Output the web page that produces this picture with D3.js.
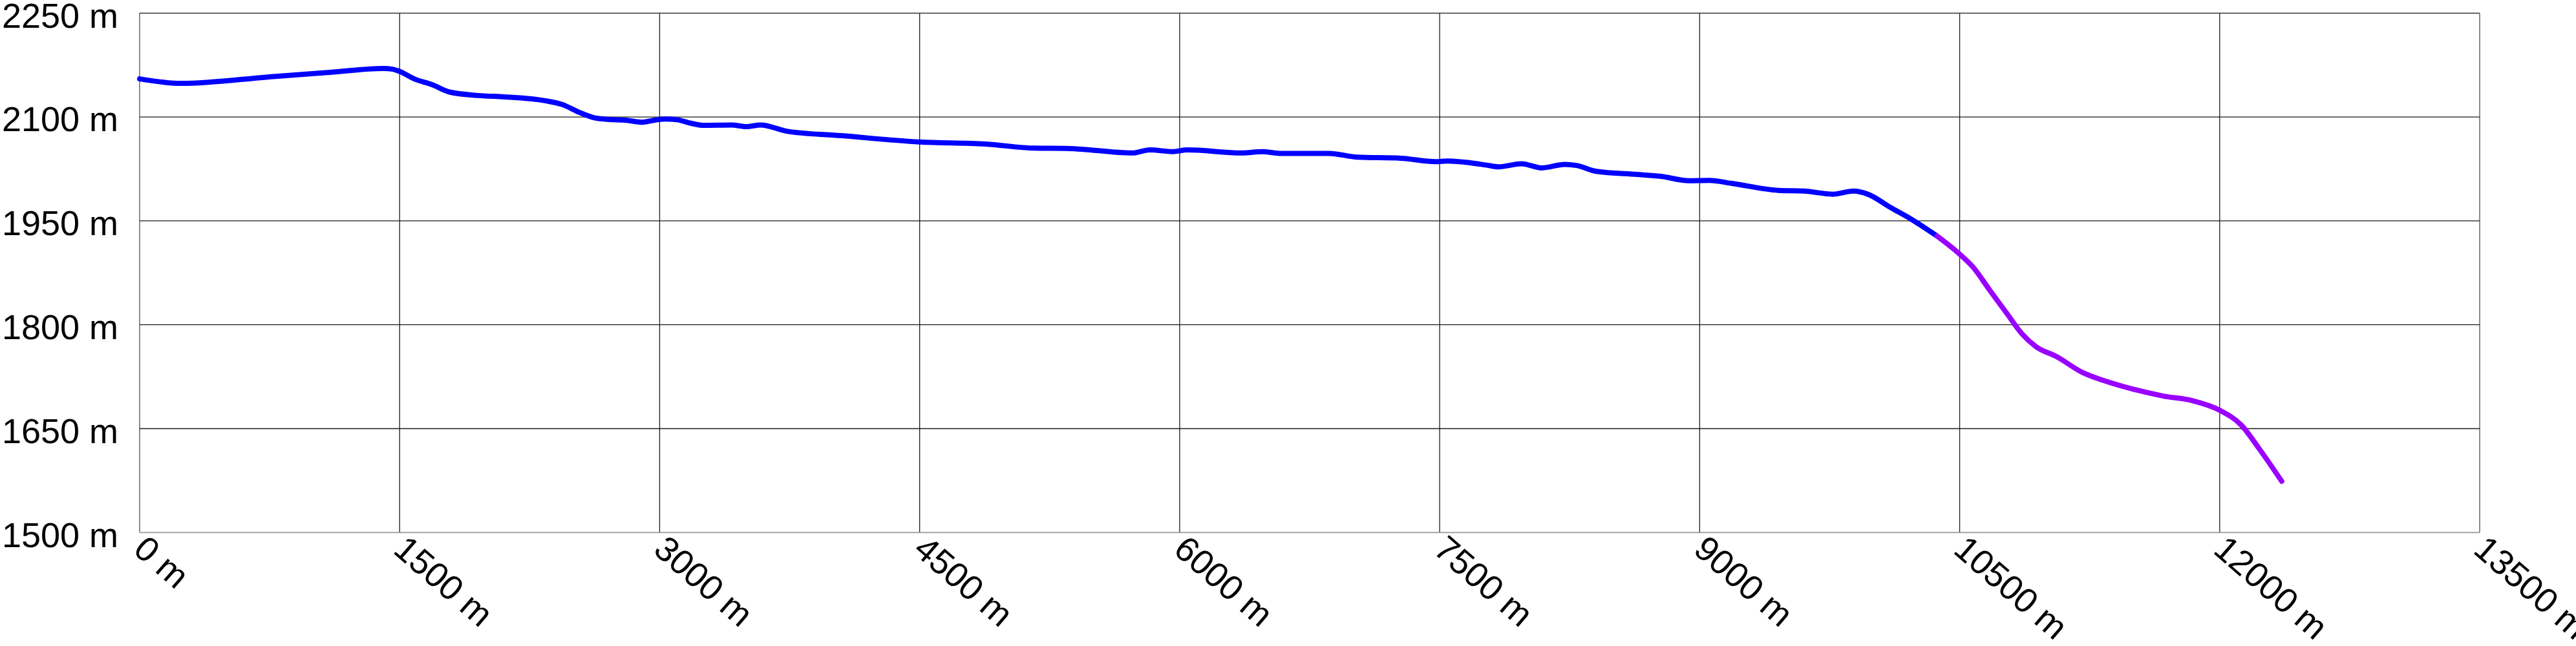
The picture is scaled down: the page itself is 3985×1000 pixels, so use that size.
<!DOCTYPE html>
<html>
<head>
<meta charset="utf-8">
<script src="https://cdn.jsdelivr.net/npm/d3@7/dist/d3.min.js"></script>
<style>
  html, body { margin: 0; padding: 0; background: #fff; }
  svg { display: block; }
  text { font-family: Arial, "Liberation Sans", sans-serif; fill: #000; }
</style>
</head>
<body>
<svg id="chart" width="3985" height="1000"></svg>
<script>
// ---- data (distance in m, elevation in m) ----
const blueDistance = [0, 240, 773, 1100, 1406, 1460, 1497, 1589, 1689, 1788, 1955, 2105, 2338, 2438, 2538, 2620, 2701, 2801, 2901, 2960, 3034, 3100, 3180, 3250, 3416, 3500, 3583, 3733, 4050, 4499, 4882, 5162, 5362, 5728, 5828, 5961, 6044, 6360, 6477, 6577, 6860, 7026, 7276, 7476, 7543, 7772, 7839, 7972, 8089, 8222, 8289, 8405, 8638, 8771, 8938, 9054, 9188, 9454, 9604, 9770, 9887, 9970, 10103, 10220, 10370];
const blueElevation = [2155, 2148.5, 2158.5, 2164.5, 2170, 2169, 2166, 2154.5, 2146.5, 2136, 2131, 2129, 2123.5, 2118, 2106.5, 2099, 2096.5, 2095.5, 2092.5, 2095, 2097, 2096, 2091, 2088, 2088.5, 2086, 2088.5, 2079.5, 2073, 2064, 2061, 2055, 2054.5, 2048, 2052.5, 2050, 2052.5, 2048, 2050, 2047.5, 2047.5, 2042, 2040.5, 2035.5, 2036.5, 2030.5, 2028, 2032.5, 2026.5, 2031.5, 2030, 2021.5, 2017, 2014.5, 2008, 2008.5, 2004, 1994, 1993, 1988.5, 1993, 1988.5, 1969, 1952.5, 1928];
const purpleDistance = [10370, 10493, 10576, 10676, 10776, 10859, 10942, 11059, 11209, 11342, 11500, 11675, 11841, 12000, 12125, 12225, 12358];
const purpleElevation = [1928, 1903.5, 1883.5, 1849, 1815, 1787, 1768, 1754, 1731, 1718.5, 1707, 1697, 1690.5, 1676.5, 1655, 1622, 1574];
const xTicks = [0, 1500, 3000, 4500, 6000, 7500, 9000, 10500, 12000, 13500];
const yTicks = [1500, 1650, 1800, 1950, 2100, 2250];
const seriesColors = ["#0000ff", "#9900ff"];

// ---- layout ----
const W = 3985, H = 1000;
const margin = { left: 216, right: W - 3836, top: 20.3, bottom: H - 824.3 };

const svg = d3.select("#chart");
const x = d3.scaleLinear().domain([0, 13500]).range([margin.left, W - margin.right]);
const y = d3.scaleLinear().domain([1500, 2250]).range([H - margin.bottom, margin.top]);

// grid
const grid = svg.append("g");
grid.selectAll("line.v").data(xTicks).join("line")
  .attr("x1", d => x(d)).attr("x2", d => x(d))
  .attr("y1", y(2250)).attr("y2", y(1500))
  .attr("stroke", d => (d === 0 || d === 13500) ? "#808080" : "#1a1a1a")
  .attr("stroke-width", d => (d === 0 || d === 13500) ? 1.8 : 1.3);
grid.selectAll("line.h").data(yTicks).join("line")
  .attr("x1", x(0)).attr("x2", x(13500))
  .attr("y1", d => y(d)).attr("y2", d => y(d))
  .attr("stroke", d => d === 1500 ? "#999" : "#1a1a1a")
  .attr("stroke-width", d => d === 1500 ? 1.8 : 1.3);

// y axis labels
const yAxis = d3.axisLeft(y).tickValues(yTicks).tickSize(0).tickPadding(33)
  .tickFormat(d => d + " m");
const yg = svg.append("g").attr("transform", `translate(${x(0)},0)`).call(yAxis);
yg.select(".domain").remove();
yg.attr("font-size", 54).attr("font-family", "Arial, 'Liberation Sans', sans-serif");
yg.selectAll("text")
  .attr("font-size", 54)
  .style("font-size", "54px")
  .attr("dy", "0.405em");

// x axis labels (rotated)
const xAxis = d3.axisBottom(x).tickValues(xTicks).tickSize(0).tickPadding(0)
  .tickFormat(d => d + " m");
const xg = svg.append("g").attr("transform", `translate(0,${y(1500)})`).call(xAxis);
xg.select(".domain").remove();
xg.attr("font-size", 54).attr("font-family", "Arial, 'Liberation Sans', sans-serif");
xg.selectAll("text")
  .attr("font-size", 54)
  .style("font-size", "54px")
  .attr("text-anchor", "start")
  .attr("y", 0)
  .attr("dy", "0.35em")
  .attr("transform", "translate(0,16) rotate(41)");

// lines
const line = d3.line().x(d => x(d[0])).y(d => y(d[1])).curve(d3.curveMonotoneX);
const blue = blueDistance.map((d, i) => [d, blueElevation[i]]);
const purple = purpleDistance.map((d, i) => [d, purpleElevation[i]]);

[[blue, seriesColors[0]], [purple, seriesColors[1]]].forEach(([data, color]) => {
  svg.append("path")
    .datum(data)
    .attr("d", line)
    .attr("fill", "none")
    .attr("stroke", color)
    .attr("stroke-width", 8)
    .attr("stroke-linecap", "round")
    .attr("stroke-linejoin", "round");
});
</script>
</body>
</html>
